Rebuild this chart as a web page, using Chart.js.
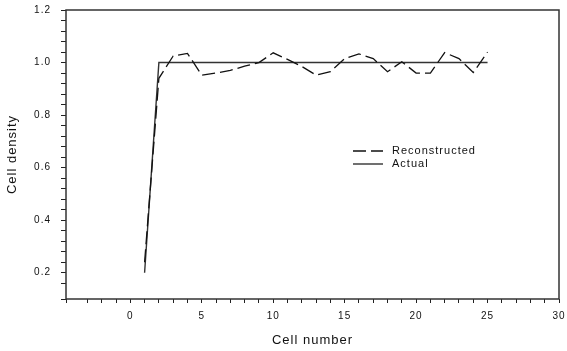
<!DOCTYPE html>
<html>
<head>
<meta charset="utf-8">
<script src="https://cdn.jsdelivr.net/npm/chart.js@4.4.1/dist/chart.umd.min.js"></script>
<style>
  html, body { margin: 0; padding: 0; background: #fff; }
  #wrap { width: 567px; height: 351px; }
</style>
</head>
<body>
<div id="wrap"><canvas id="myChart" width="567" height="351"></canvas></div>
<script>
"use strict";

const cells = [1, 2, 3, 4, 5, 6, 7, 8, 9, 10, 11, 12, 13, 14, 15, 16, 17, 18, 19, 20, 21, 22, 23, 24, 25];
const actual = [0.2, 1, 1, 1, 1, 1, 1, 1, 1, 1, 1, 1, 1, 1, 1, 1, 1, 1, 1, 1, 1, 1, 1, 1, 1];
const reconstructed = [0.24, 0.94, 1.025, 1.035, 0.952, 0.96, 0.97, 0.986, 1.0, 1.037, 1.012, 0.985,
  0.952, 0.965, 1.015, 1.033, 1.015, 0.965, 1.003, 0.96, 0.96, 1.038, 1.015, 0.962, 1.04];

const xTicksMajor = 5;
const yTicksMajor = 0.2;

const FONT = "'Liberation Sans', Arial, sans-serif";

function toPoints(xs, ys) {
  let data = [];
  for (let i = 0; i < xs.length; i++) {
    data.push({ x: xs[i], y: ys[i] });
  }
  return data;
}

// letter spacing + frame + legend, drawn by hand
const paperLook = {
  id: "paperLook",
  beforeDraw(chart) {
    chart.ctx.letterSpacing = "1px";
  },
  afterDraw(chart) {
    const ctx = chart.ctx;
    const a = chart.chartArea;
    ctx.save();
    ctx.strokeStyle = "#333";
    ctx.lineWidth = 1.5;
    ctx.strokeRect(a.left, a.top, a.right - a.left, a.bottom - a.top);

    const x0 = 353, len = 30;
    const rows = [
      { ds: chart.data.datasets[0], y: 151 },
      { ds: chart.data.datasets[1], y: 164 },
    ];
    ctx.font = "11px " + FONT;
    ctx.textBaseline = "middle";
    ctx.fillStyle = "#111";
    rows.forEach((r) => {
      ctx.beginPath();
      ctx.setLineDash(r.ds.borderDash || []);
      ctx.strokeStyle = r.ds.borderColor;
      ctx.lineWidth = r.ds.borderWidth;
      ctx.moveTo(x0, r.y);
      ctx.lineTo(x0 + len, r.y);
      ctx.stroke();
      ctx.setLineDash([]);
      ctx.fillText(r.ds.label, x0 + len + 9, r.y);
    });
    ctx.restore();
  },
};

const data = {
  datasets: [
    {
      label: "Reconstructed",
      data: toPoints(cells, reconstructed),
      borderColor: "#111",
      borderWidth: 1.3,
      borderDash: [13, 5],
      pointRadius: 0,
      tension: 0,
    },
    {
      label: "Actual",
      data: toPoints(cells, actual),
      borderColor: "#333",
      borderWidth: 1.4,
      pointRadius: 0,
      tension: 0,
    },
  ],
};

const ctx = document.getElementById("myChart").getContext("2d");
const myChart = new Chart(ctx, {
  type: "line",
  data: data,
  plugins: [paperLook],
  options: {
    responsive: false,
    animation: false,
    layout: { padding: { left: 0, top: 10, right: 8, bottom: 0 } },
    plugins: {
      legend: { display: false },
      tooltip: { enabled: false },
    },
    scales: {
      x: {
        type: "linear",
        min: -4.5,
        max: 30,
        afterFit: (scale) => {
          scale.height = 52;
          scale.paddingLeft = 0;
          scale.paddingRight = 0;
        },
        border: { display: false },
        grid: { drawOnChartArea: false, tickLength: 4, color: "#222", lineWidth: 1 },
        ticks: {
          stepSize: 1,
          autoSkip: false,
          maxRotation: 0,
          padding: 7,
          color: "#111",
          font: { family: FONT, size: 10 },
          callback: (v) => (v % xTicksMajor === 0 ? String(v) : ""),
        },
        title: {
          display: true,
          text: "Cell number",
          color: "#111",
          font: { family: FONT, size: 13 },
          padding: { bottom: 3 },
        },
      },
      y: {
        min: 0.1,
        max: 1.2,
        afterFit: (scale) => {
          scale.width = 66;
          scale.paddingTop = 0;
          scale.paddingBottom = 0;
        },
        border: { display: false },
        grid: { drawOnChartArea: false, tickLength: 5, color: "#222", lineWidth: 1 },
        ticks: {
          stepSize: 0.04,
          autoSkip: false,
          padding: 10,
          color: "#111",
          font: { family: FONT, size: 10 },
          callback: (v) => {
            const r = v / yTicksMajor;
            return Math.abs(r - Math.round(r)) < 1e-6 ? v.toFixed(1) : "";
          },
        },
        title: {
          display: true,
          text: "Cell density",
          color: "#111",
          font: { family: FONT, size: 13 },
          padding: { top: 5 },
        },
      },
    },
  },
});
</script>
</body>
</html>
